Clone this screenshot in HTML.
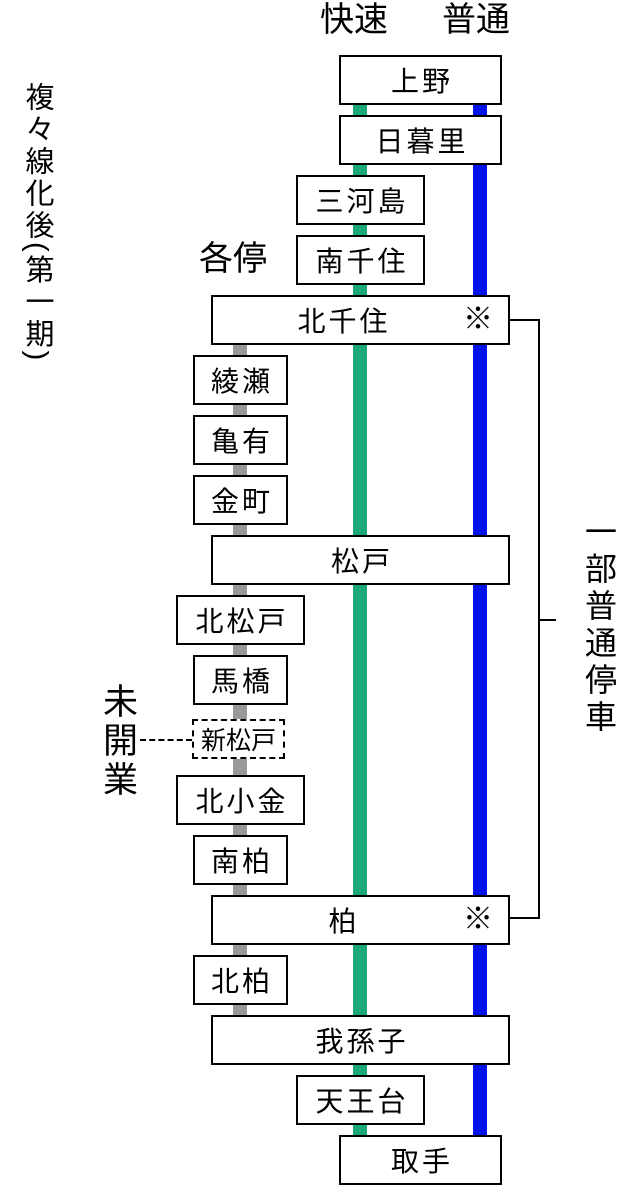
<!DOCTYPE html>
<html><head><meta charset="utf-8"><style>
body{margin:0;width:640px;height:1200px;background:#fff;position:relative;overflow:hidden;font-family:"Liberation Sans","Noto Sans CJK JP",sans-serif;}
.a{position:absolute;}
.b{position:absolute;box-sizing:border-box;border:2px solid #000;background:#fff;display:flex;align-items:center;justify-content:center;font-size:28px;letter-spacing:3px;text-indent:3px;height:50px;color:#000;}
.t{position:absolute;font-size:34px;color:#000;line-height:1;}
</style></head><body>
<div class="a" style="left:353px;top:100px;width:14px;height:1040px;background:#1aaa7a"></div>
<div class="a" style="left:473px;top:100px;width:14px;height:1040px;background:#0010e8"></div>
<div class="a" style="left:233px;top:340px;width:14px;height:680px;background:#999"></div>

<div class="t" style="left:320px;top:3px">快速</div>
<div class="t" style="left:442px;top:3px">普通</div>
<div class="t" style="left:199px;top:242px">各停</div>

<div class="a" style="left:22px;top:82px;writing-mode:vertical-rl;font-size:29px;line-height:1;letter-spacing:3px">複々線化後(第一期)</div>

<div class="b" style="left:339px;top:55px;width:163px">上野</div>
<div class="b" style="left:339px;top:115px;width:163px">日暮里</div>
<div class="b" style="left:296px;top:175px;width:129px">三河島</div>
<div class="b" style="left:296px;top:235px;width:129px">南千住</div>
<div class="b" style="left:211px;top:295px;width:299px;padding-right:36px">北千住</div>
<div class="b" style="left:193px;top:355px;width:95px">綾瀬</div>
<div class="b" style="left:193px;top:415px;width:95px">亀有</div>
<div class="b" style="left:193px;top:475px;width:95px">金町</div>
<div class="b" style="left:211px;top:535px;width:299px">松戸</div>
<div class="b" style="left:176px;top:595px;width:129px">北松戸</div>
<div class="b" style="left:193px;top:655px;width:95px">馬橋</div>
<div class="b" style="left:192px;top:719px;width:93px;height:40px;border:2px dashed #000;font-size:25px;letter-spacing:0;text-indent:0">新松戸</div>
<div class="b" style="left:176px;top:775px;width:129px">北小金</div>
<div class="b" style="left:193px;top:835px;width:95px">南柏</div>
<div class="b" style="left:211px;top:895px;width:299px;padding-right:36px">柏</div>
<div class="b" style="left:193px;top:955px;width:95px">北柏</div>
<div class="b" style="left:211px;top:1015px;width:299px">我孫子</div>
<div class="b" style="left:296px;top:1075px;width:129px">天王台</div>
<div class="b" style="left:339px;top:1135px;width:163px">取手</div>

<div class="t" style="left:463px;top:305px;font-size:30px">※</div>
<div class="t" style="left:463px;top:905px;font-size:30px">※</div>

<div class="a" style="left:509px;top:319px;width:31px;height:600px;border:2px solid #000;border-left:none;box-sizing:border-box"></div>
<div class="a" style="left:540px;top:619px;width:16px;height:2px;background:#000"></div>
<div class="a" style="left:583px;top:515px;writing-mode:vertical-rl;font-size:32px;line-height:1;letter-spacing:5px">一部普通停車</div>

<div class="a" style="left:100px;top:683px;writing-mode:vertical-rl;font-size:35px;line-height:1;letter-spacing:4px">未開業</div>
<div class="a" style="left:140px;top:739px;width:52px;border-top:2px dashed #000"></div>
</body></html>
